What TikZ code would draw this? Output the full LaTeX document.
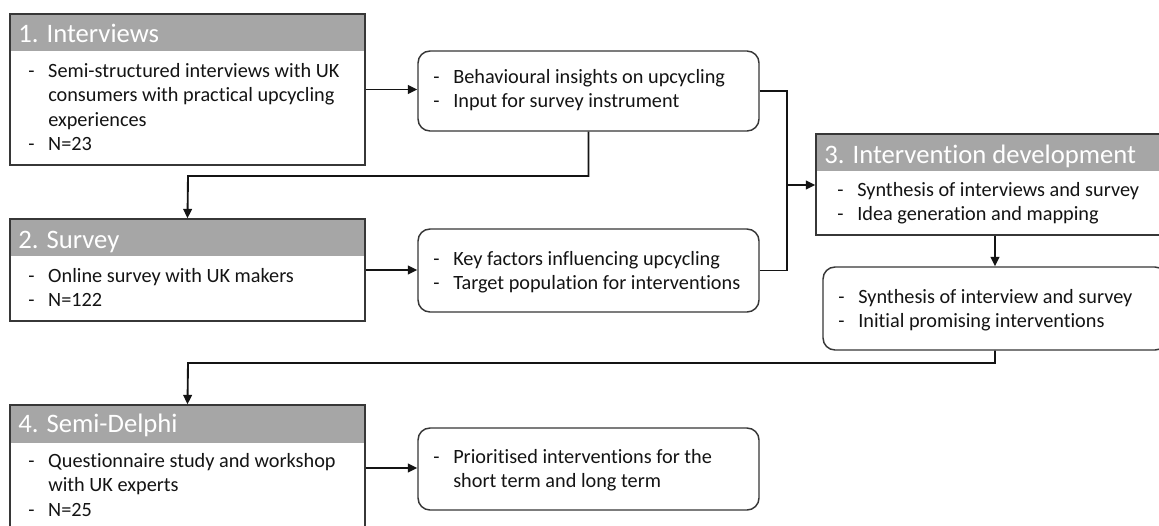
\documentclass[tikz,border=0pt]{standalone}
\usepackage{fontspec}
\setmainfont{Carlito}[Ligatures={NoCommon}]
\usetikzlibrary{arrows.meta,fit}
\definecolor{hdrgray}{RGB}{166,166,166}
\definecolor{edge}{RGB}{55,55,55}
\definecolor{ink}{RGB}{20,20,20}
% bullet list with a hyphen column
\newcommand\dashlist[1]{\begin{tabular}[t]{@{}p{15pt}@{}l@{}}#1\end{tabular}}

\begin{document}
\begin{tikzpicture}[x=0.75pt,y=-0.75pt,
  stagebox/.style={draw=edge, line width=1.1pt, inner sep=0pt},
  hdr/.style={fill=hdrgray, draw=none, inner sep=0pt},
  outbox/.style={draw=edge, line width=1.1pt, inner sep=0pt, rounded corners=9pt},
  hdrtext/.style={anchor=base west, inner sep=0pt, text=white, font=\fontsize{20}{24}\selectfont},
  bodytext/.style={anchor=base west, inner sep=0pt, text=ink, font=\fontsize{15.2}{18.4}\selectfont},
  link/.style={draw=ink, line width=1.4pt},
  arr/.style={link, -{Triangle[length=7pt,width=6.5pt]}}]

\useasboundingbox (0,0) rectangle (1159,525);
\fill[white] (0,0) rectangle (1159,525);
\clip (0,0) rectangle (1159,525);

% ---- stage 1: interviews
\node[hdr, fit={(10,14)(365,51)}] (b1h) {};
\node[stagebox, fit={(10,14)(365,165)}] (b1) {};
\node[hdrtext] (b1ht) at (18,42) {1. Interviews};
\node[bodytext] (b1t) at (28,77) {\dashlist{-&Semi-structured interviews with UK\\ &consumers with practical upcycling\\ &experiences\\ -&N=23}};

\node[outbox, fit={(418,51)(759,131)}] (o1) {};
\node[bodytext] (o1t) at (433,83) {\dashlist{-&Behavioural insights on upcycling\\ -&Input for survey instrument}};

% ---- stage 2: survey
\node[hdr, fit={(10,219)(365,256)}] (b2h) {};
\node[stagebox, fit={(10,219)(365,321)}] (b2) {};
\node[hdrtext] (b2ht) at (18,248) {2. Survey};
\node[bodytext] (b2t) at (28,282) {\dashlist{-&Online survey with UK makers\\ -&N=122}};

\node[outbox, fit={(418,229)(759,312)}] (o2) {};
\node[bodytext] (o2t) at (433,265) {\dashlist{-&Key factors influencing upcycling\\ -&Target population for interventions}};

% ---- stage 3: intervention development
\node[hdr, fit={(816,134)(1174,171)}] (b3h) {};
\node[stagebox, fit={(816,134)(1174,235)}] (b3) {};
\node[hdrtext] (b3ht) at (824,163) {3. Intervention development};
\node[bodytext] (b3t) at (837,196) {\dashlist{-&Synthesis of interviews and survey\\ -&Idea generation and mapping}};

\node[outbox, fit={(823,267)(1167,350)}] (o3) {};
\node[bodytext] (o3t) at (838,303) {\dashlist{-&Synthesis of interview and survey\\ -&Initial promising interventions}};

% ---- stage 4: semi-Delphi
\node[hdr, fit={(10,405)(365,443)}] (b4h) {};
\node[stagebox, fit={(10,405)(365,531)}] (b4) {};
\node[hdrtext] (b4ht) at (18,432) {4. Semi-Delphi};
\node[bodytext] (b4t) at (28,467) {\dashlist{-&Questionnaire study and workshop\\ &with UK experts\\ -&N=25}};

\node[outbox, fit={(418,428)(759,510)}] (o4) {};
\node[bodytext] (o4t) at (433,463) {\dashlist{-&Prioritised interventions for the\\ &short term and long term}};

% ---- connectors
\coordinate (j1) at (188,176);
\coordinate (m) at (787,185);
\coordinate (j2) at (188,363);

\draw[arr] (b1.east) -- (b1.east -| o1.west);
\draw[arr] (o1.south) |- (j1) -- (b2.north);
\draw[arr] (b2.east) -- (b2.east -| o2.west);
\draw[link] (o1.east) -| (m);
\draw[link] (o2.east) -| (m);
\draw[arr] (m) -- (m -| b3.west);
\draw[arr] (b3.south) -- (b3.south |- o3.north);
\draw[arr] (o3.south) |- (j2) -- (b4.north);
\draw[arr] (b4.east) -- (b4.east -| o4.west);
\end{tikzpicture}
\end{document}
